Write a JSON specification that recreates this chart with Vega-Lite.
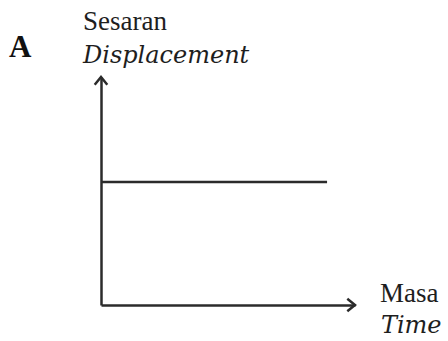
{
  "$schema": "https://vega.github.io/schema/vega-lite/v6.json",
  "width": 254,
  "height": 228,
  "autosize": "none",
  "padding": {"left": 101, "top": 77, "right": 93, "bottom": 36},
  "background": "white",
  "config": {"view": {"stroke": null}},
  "datasets": {
    "line": [
      {"masa": 0, "sesaran": 5.4},
      {"masa": 8.9, "sesaran": 5.4}
    ],
    "arrows": [
      {"masa": 0, "sesaran": 10, "dir": "up"},
      {"masa": 10, "sesaran": 0, "dir": "right"}
    ],
    "labels": [
      {"label": "Sesaran", "masa": -0.71, "sesaran": 12.06, "kind": "ms"},
      {"label": "Displacement", "masa": -0.71, "sesaran": 10.61, "kind": "en"},
      {"label": "Masa", "masa": 10.98, "sesaran": 0.13, "kind": "ms"},
      {"label": "Time", "masa": 11.02, "sesaran": -1.23, "kind": "en"},
      {"label": "A", "masa": -3.62, "sesaran": 10.88, "kind": "panel"}
    ]
  },
  "layer": [
    {
      "data": {"name": "line"},
      "mark": {"type": "line", "color": "#2b2b2b", "strokeWidth": 2.5},
      "encoding": {
        "x": {"field": "masa", "type": "quantitative", "scale": {"domain": [0, 10], "nice": false, "zero": false},
          "axis": {"domainColor": "#2b2b2b", "domainWidth": 2.5, "ticks": false, "labels": false, "grid": false, "title": null}},
        "y": {"field": "sesaran", "type": "quantitative", "scale": {"domain": [0, 10], "nice": false, "zero": false},
          "axis": {"domainColor": "#2b2b2b", "domainWidth": 2.5, "ticks": false, "labels": false, "grid": false, "title": null}}
      }
    },
    {
      "data": {"name": "arrows"},
      "mark": {"type": "point", "filled": false, "stroke": "#2b2b2b", "strokeWidth": 2.5, "size": 196, "opacity": 1},
      "encoding": {
        "x": {"field": "masa", "type": "quantitative"},
        "y": {"field": "sesaran", "type": "quantitative"},
        "shape": {"field": "dir", "type": "nominal", "legend": null,
          "scale": {"domain": ["up", "right"], "range": ["M -0.9 1.1 L 0 0 L 0.9 1.1", "M -1.1 -0.9 L 0 0 L -1.1 0.9"]}}
      }
    },
    {
      "data": {"name": "labels"},
      "transform": [{"filter": "datum.kind === 'ms'"}],
      "mark": {"type": "text", "font": "'Liberation Serif', 'Times New Roman', serif", "fontSize": 27, "align": "left", "baseline": "alphabetic", "color": "#1e1e1e"},
      "encoding": {
        "x": {"field": "masa", "type": "quantitative"},
        "y": {"field": "sesaran", "type": "quantitative"},
        "text": {"field": "label"}
      }
    },
    {
      "data": {"name": "labels"},
      "transform": [{"filter": "datum.kind === 'en'"}],
      "mark": {"type": "text", "font": "'DejaVu Serif', serif", "fontSize": 24, "fontStyle": "italic", "align": "left", "baseline": "alphabetic", "color": "#1e1e1e"},
      "encoding": {
        "x": {"field": "masa", "type": "quantitative"},
        "y": {"field": "sesaran", "type": "quantitative"},
        "text": {"field": "label"}
      }
    },
    {
      "data": {"name": "labels"},
      "transform": [{"filter": "datum.kind === 'panel'"}],
      "mark": {"type": "text", "font": "'Liberation Serif', 'Times New Roman', serif", "fontSize": 31, "fontWeight": "bold", "align": "left", "baseline": "alphabetic", "color": "#111111"},
      "encoding": {
        "x": {"field": "masa", "type": "quantitative"},
        "y": {"field": "sesaran", "type": "quantitative"},
        "text": {"field": "label"}
      }
    }
  ]
}
